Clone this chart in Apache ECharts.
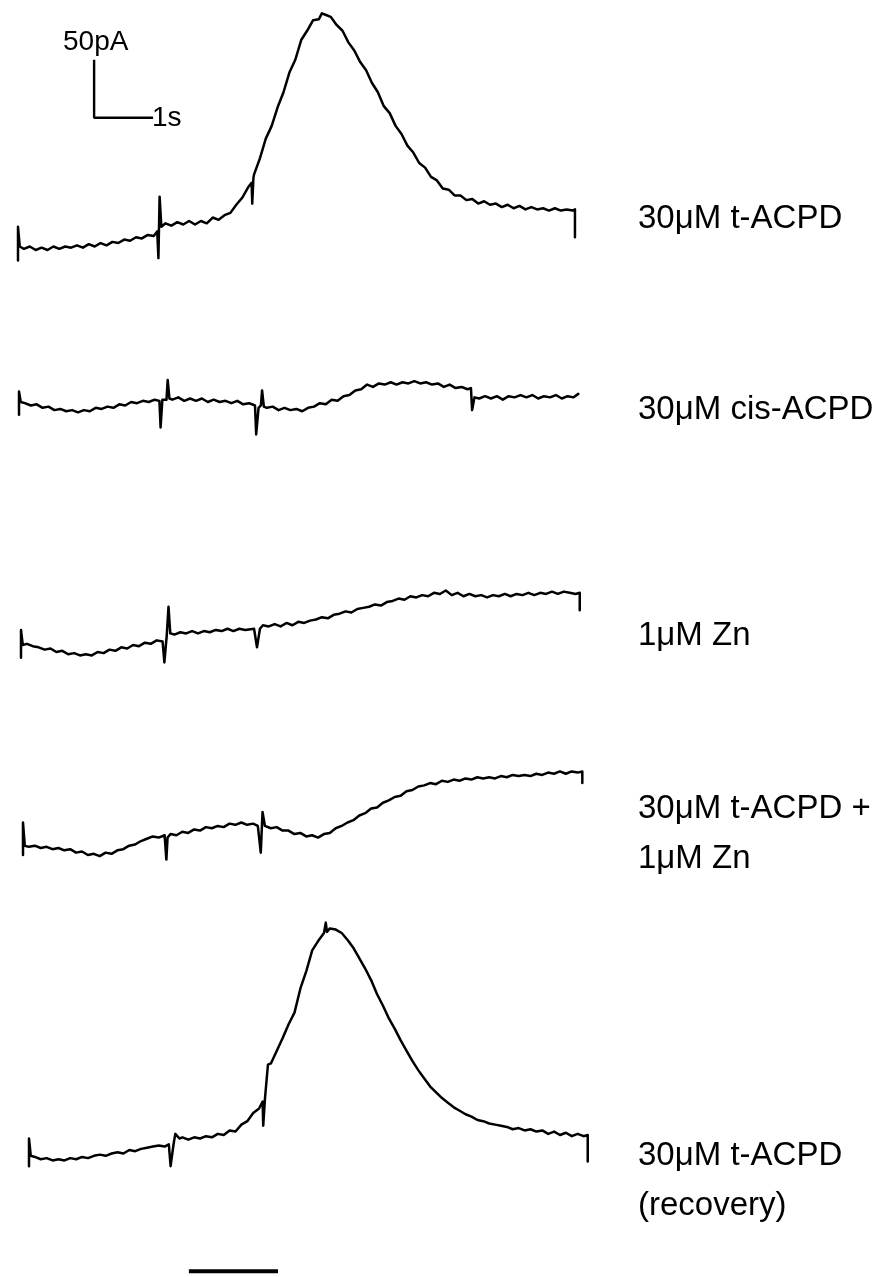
<!DOCTYPE html>
<html>
<head>
<meta charset="utf-8">
<script src="https://cdn.jsdelivr.net/npm/echarts@6/dist/echarts.min.js"></script>
<style>
html,body{margin:0;padding:0;background:#fff;}
#c{width:886px;height:1277px;}
</style>
</head>
<body>
<div id="c"></div>
<script>
// ---- data: time (s) vs current (pA, relative to each trace's starting baseline) ----
const labels = ['30μM t-ACPD', '30μM cis-ACPD', '1μM Zn', '30μM t-ACPD +\n1μM Zn', '30μM t-ACPD\n(recovery)'];

const trace1 = [[0,-9],[0,20],[0.03,3],[0.1,1],[0.2,3],[0.3,0],[0.4,2],[0.5,0],[0.6,3],[0.7,1],[0.8,3],[0.9,2],[1.0,4],[1.1,2],[1.2,5],[1.3,3],[1.4,6],[1.5,4],[1.6,7],[1.7,6],[1.8,9],[1.9,8],[2.0,11],[2.1,10],[2.2,13],[2.3,12],[2.36,16],
[2.38,-7],[2.40,46],[2.43,20],[2.5,23],[2.6,21],[2.7,24],[2.8,22],[2.9,25],[3.0,22],[3.1,25],[3.2,23],[3.3,28],[3.4,26],[3.5,30],[3.6,32],[3.7,39],[3.8,45],[3.9,54],[3.96,58],[3.97,40],[3.99,62],
[4.0,65],[4.1,79],[4.2,96],[4.3,107],[4.4,123],[4.5,136],[4.6,153],[4.7,164],[4.8,181],[4.9,189],[5.0,198],[5.1,199],[5.15,204],[5.2,203],[5.3,201],[5.4,194],[5.5,189],[5.6,179],[5.7,172],[5.8,162],[5.9,155],[6.0,144],[6.1,136],[6.2,124],[6.3,118],[6.4,107],[6.5,100],[6.6,90],[6.7,84],[6.8,75],[6.9,71],[7.0,63],[7.1,60],[7.2,53],[7.3,52],[7.4,47],[7.5,47],[7.6,43],[7.7,44],[7.8,40],[7.9,42],[8.0,39],[8.1,40],[8.2,37],[8.3,39],[8.4,36],[8.5,38],[8.6,35],[8.7,37],[8.8,35],[8.9,36],[9.0,34],[9.1,36],[9.2,34],[9.3,35],[9.4,34],[9.44,35],[9.44,11]];

const trace2 = [[0,-11],[0,9],[0.03,0],[0.1,-1],[0.2,-3],[0.3,-2],[0.4,-5],[0.5,-4],[0.6,-7],[0.7,-6],[0.8,-8],[0.9,-7],[1.0,-9],[1.1,-7],[1.2,-8],[1.3,-5],[1.4,-6],[1.5,-4],[1.6,-5],[1.7,-2],[1.8,-3],[1.9,0],[2.0,-1],[2.1,1],[2.2,0],[2.3,2],[2.38,1],[2.40,-22],[2.43,2],[2.5,2],[2.52,19],[2.55,3],[2.6,2],[2.7,4],[2.8,1],[2.9,3],[3.0,1],[3.1,3],[3.2,0],[3.3,2],[3.4,0],[3.5,1],[3.6,-1],[3.7,1],[3.8,-2],[3.9,-1],[4.0,-3],[4.02,-28],[4.06,-5],[4.1,-3],[4.12,10],[4.15,-4],[4.2,-5],[4.3,-4],[4.4,-7],[4.5,-5],[4.6,-7],[4.7,-6],[4.8,-8],[4.9,-5],[5.0,-4],[5.1,-1],[5.2,-2],[5.3,2],[5.4,1],[5.5,5],[5.6,6],[5.7,10],[5.8,11],[5.9,15],[6.0,13],[6.1,16],[6.2,15],[6.3,17],[6.4,15],[6.5,17],[6.6,16],[6.7,18],[6.8,16],[6.9,17],[7.0,15],[7.1,16],[7.2,13],[7.3,15],[7.4,12],[7.5,13],[7.6,11],[7.66,12],[7.68,-7],[7.72,4],[7.8,3],[7.9,5],[8.0,3],[8.1,5],[8.2,2],[8.3,5],[8.4,4],[8.5,6],[8.6,4],[8.7,6],[8.8,3],[8.9,5],[9.0,4],[9.1,6],[9.2,3],[9.3,5],[9.4,4],[9.48,7]];

const trace3 = [[0,-11],[0,13],[0.03,0],[0.1,1],[0.2,-1],[0.3,-2],[0.4,-4],[0.5,-3],[0.6,-6],[0.7,-5],[0.8,-8],[0.9,-7],[1.0,-9],[1.1,-8],[1.2,-9],[1.3,-6],[1.4,-7],[1.5,-4],[1.6,-5],[1.7,-2],[1.8,-3],[1.9,0],[2.0,-1],[2.1,2],[2.2,1],[2.3,4],[2.40,3],[2.43,-15],[2.47,8],[2.50,33],[2.53,10],[2.6,9],[2.7,11],[2.8,10],[2.9,12],[3.0,10],[3.1,12],[3.2,11],[3.3,13],[3.4,12],[3.5,14],[3.6,12],[3.7,14],[3.8,13],[3.95,14],[4.0,-2],[4.05,14],[4.1,17],[4.2,16],[4.3,18],[4.4,16],[4.5,19],[4.6,17],[4.7,20],[4.8,19],[4.9,21],[5.0,22],[5.1,24],[5.2,23],[5.3,26],[5.4,27],[5.5,29],[5.6,28],[5.7,31],[5.8,32],[5.9,33],[6.0,35],[6.1,34],[6.2,37],[6.3,38],[6.4,40],[6.5,39],[6.6,42],[6.7,41],[6.8,43],[6.9,42],[7.0,45],[7.1,44],[7.2,47],[7.3,43],[7.4,45],[7.5,42],[7.6,44],[7.7,42],[7.8,43],[7.9,41],[8.0,43],[8.1,42],[8.2,44],[8.3,42],[8.4,44],[8.5,43],[8.6,45],[8.7,43],[8.8,45],[8.9,44],[9.0,46],[9.1,44],[9.2,46],[9.3,45],[9.4,44],[9.47,45],[9.47,30]];

const trace4 = [[0,-6],[0,22],[0.03,2],[0.1,1],[0.2,2],[0.3,0],[0.4,1],[0.5,-1],[0.6,0],[0.7,-2],[0.8,-1],[0.9,-4],[1.0,-3],[1.1,-6],[1.2,-5],[1.3,-7],[1.4,-4],[1.5,-5],[1.6,-2],[1.7,-1],[1.8,2],[1.9,3],[2.0,6],[2.1,8],[2.2,10],[2.3,9],[2.4,11],[2.43,-10],[2.45,9],[2.5,12],[2.6,11],[2.7,14],[2.8,13],[2.9,16],[3.0,15],[3.1,18],[3.2,17],[3.3,19],[3.4,18],[3.5,21],[3.6,20],[3.7,22],[3.8,20],[3.9,21],[3.98,19],[4.03,-4],[4.06,31],[4.1,19],[4.2,17],[4.3,18],[4.4,15],[4.5,15],[4.6,12],[4.7,13],[4.8,10],[4.9,11],[5.0,9],[5.1,12],[5.2,13],[5.3,17],[5.4,19],[5.5,22],[5.6,24],[5.7,28],[5.8,30],[5.9,34],[6.0,35],[6.1,39],[6.2,41],[6.3,44],[6.4,45],[6.5,49],[6.6,50],[6.7,53],[6.8,54],[6.9,56],[7.0,55],[7.1,58],[7.2,57],[7.3,59],[7.4,58],[7.5,60],[7.6,59],[7.7,61],[7.8,60],[7.9,61],[8.0,60],[8.1,62],[8.2,61],[8.3,63],[8.4,62],[8.5,63],[8.6,62],[8.7,64],[8.8,63],[8.9,65],[9.0,64],[9.1,66],[9.2,64],[9.3,66],[9.4,65],[9.48,66],[9.48,56]];

const trace5 = [[0,-9],[0,15],[0.03,0],[0.1,-1],[0.2,-3],[0.3,-2],[0.4,-4],[0.5,-3],[0.6,-4],[0.7,-2],[0.8,-3],[0.9,-1],[1.0,-2],[1.1,0],[1.2,1],[1.3,0],[1.4,2],[1.5,3],[1.6,2],[1.7,5],[1.8,4],[1.9,6],[2.0,7],[2.1,8],[2.2,9],[2.3,8],[2.37,10],[2.40,-9],[2.45,10],[2.48,19],[2.55,15],[2.6,16],[2.7,14],[2.8,16],[2.9,15],[3.0,17],[3.1,16],[3.2,19],[3.3,18],[3.4,22],[3.5,21],[3.6,27],[3.7,30],[3.8,37],[3.9,41],[3.96,47],[3.97,26],[4.0,50],[4.05,79],[4.1,80],[4.2,91],[4.3,102],[4.4,114],[4.5,124],[4.6,145],[4.7,160],[4.8,178],[4.9,186],[5.0,193],[5.03,202],[5.05,194],[5.1,197],[5.2,196],[5.3,193],[5.4,187],[5.5,180],[5.6,171],[5.7,162],[5.8,152],[5.9,140],[6.0,130],[6.1,119],[6.2,110],[6.3,100],[6.4,91],[6.5,82],[6.6,74],[6.7,67],[6.8,60],[6.9,55],[7.0,50],[7.1,46],[7.2,42],[7.3,39],[7.4,36],[7.5,34],[7.6,31],[7.7,30],[7.8,28],[7.9,27],[8.0,26],[8.1,25],[8.2,23],[8.3,24],[8.4,22],[8.5,23],[8.6,21],[8.7,22],[8.8,19],[8.9,21],[9.0,18],[9.1,20],[9.2,17],[9.3,19],[9.4,17],[9.47,18],[9.47,-5]];

// scale bar: 1 s horizontal, 50 pA vertical (drawn in trace-1 coordinates)
const scaleBarTime = 1;      // s
const scaleBarCurrent = 50;  // pA
const scaleBarOrigin = [1.29, 114]; // [s, pA]
// application bar under the last trace (s, in trace-5 time)
const applicationBar = [2.71, 4.22];
const applicationBarLevel = -100;

// ---- layout ----
const PX_PER_S = 59, PX_PER_PA = 58 / 50, T_MAX = 9.5;
const layout = [
  {left: 18, zeroY: 250,  min: -30,  max: 210},
  {left: 19, zeroY: 402,  min: -40,  max: 40},
  {left: 21, zeroY: 645,  min: -30,  max: 60},
  {left: 23, zeroY: 848,  min: -30,  max: 80},
  {left: 29, zeroY: 1157, min: -105, max: 210}
];
const traces = [trace1, trace2, trace3, trace4, trace5];
const labelY = [213, 404, 630, 803, 1150];

const grid = layout.map(g => ({
  left: g.left, width: T_MAX * PX_PER_S,
  top: g.zeroY - g.max * PX_PER_PA, height: (g.max - g.min) * PX_PER_PA,
  containLabel: false
}));
const xAxis = layout.map((g, i) => ({type: 'value', gridIndex: i, min: 0, max: T_MAX, show: false}));
const yAxis = layout.map((g, i) => ({type: 'value', gridIndex: i, min: g.min, max: g.max, show: false}));

const lineStyle = {color: '#000', width: 2.5, join: 'round', cap: 'round'};
const series = traces.map((d, i) => ({
  type: 'line', xAxisIndex: i, yAxisIndex: i, data: d,
  showSymbol: false, symbol: 'none', lineStyle: lineStyle, clip: false, silent: true
}));
series.push({
  type: 'line', xAxisIndex: 0, yAxisIndex: 0, symbol: 'none', clip: false,
  lineStyle: {color: '#000', width: 2.4},
  data: [[scaleBarOrigin[0], scaleBarOrigin[1] + scaleBarCurrent], scaleBarOrigin,
         [scaleBarOrigin[0] + scaleBarTime, scaleBarOrigin[1]]]
});
series.push({
  type: 'line', xAxisIndex: 4, yAxisIndex: 4, symbol: 'none', clip: false,
  lineStyle: {color: '#000', width: 4},
  data: [[applicationBar[0], applicationBarLevel], [applicationBar[1], applicationBarLevel]]
});

const FONT = '"Liberation Sans", Arial, Helvetica, sans-serif';
const graphic = labels.map((t, i) => ({
  type: 'text', left: 638, top: labelY[i] - 19,
  style: {text: t, font: '33px ' + FONT, fill: '#000', lineHeight: 50}
}));
graphic.push({type: 'text', left: 63, top: 28, style: {text: '50pA', font: '28px ' + FONT, fill: '#000'}});
graphic.push({type: 'text', left: 152, top: 104, style: {text: '1s', font: '28px ' + FONT, fill: '#000'}});

const chart = echarts.init(document.getElementById('c'), null, {renderer: 'canvas'});
chart.setOption({
  animation: false, backgroundColor: '#fff',
  grid, xAxis, yAxis, series, graphic
});
</script>
</body>
</html>
